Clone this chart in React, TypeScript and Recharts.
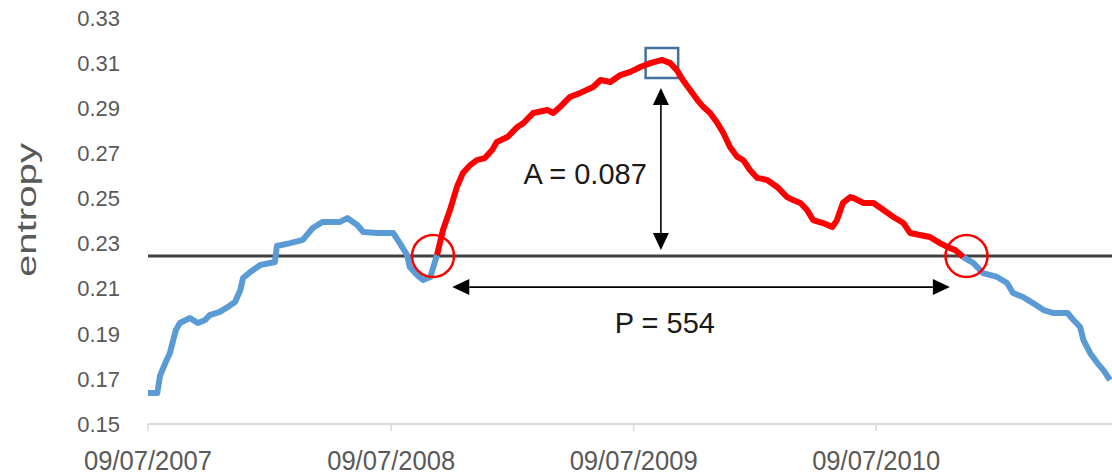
import { LineChart, Line, XAxis, YAxis, ReferenceLine, ReferenceDot, ReferenceArea } from "recharts";

// x is days since 09/07/2007
const tickDays = [0, 366, 731, 1096];
const tickLabels = ["09/07/2007", "09/07/2008", "09/07/2009", "09/07/2010"];
const yTicks = [0.15, 0.17, 0.19, 0.21, 0.23, 0.25, 0.27, 0.29, 0.31, 0.33];

// blue part before the episode
const blueStartDays = [0, 14, 18, 26, 33, 38, 42, 48, 63, 75, 86, 93, 108, 120, 131, 139, 143, 154, 169, 184, 191, 194, 214, 233, 248, 263, 289, 300, 315, 324, 345, 369, 379, 390, 394, 405, 414, 425, 435];
const blueStartValues = [0.1637, 0.1637, 0.1713, 0.177, 0.1815, 0.1872, 0.1917, 0.1948, 0.197, 0.1948, 0.1961, 0.1983, 0.1997, 0.2019, 0.2041, 0.2094, 0.2147, 0.2174, 0.2205, 0.2214, 0.2218, 0.2289, 0.2302, 0.2316, 0.2369, 0.2396, 0.2396, 0.2413, 0.2382, 0.2351, 0.2347, 0.2347, 0.2302, 0.2249, 0.2196, 0.2161, 0.2138, 0.2152, 0.2249];

// red part: the episode above the threshold
const redDays = [435, 444, 455, 465, 474, 485, 495, 507, 518, 525, 541, 556, 565, 580, 601, 610, 620, 635, 650, 670, 681, 696, 711, 726, 741, 756, 774, 786, 796, 805, 816, 827, 836, 846, 857, 866, 876, 887, 896, 906, 917, 932, 947, 962, 971, 982, 992, 1001, 1016, 1030, 1037, 1046, 1057, 1062, 1077, 1092, 1107, 1122, 1137, 1147, 1162, 1177, 1192, 1203, 1215, 1227];
const redValues = [0.2249, 0.236, 0.2453, 0.2551, 0.2613, 0.2648, 0.267, 0.2679, 0.2715, 0.275, 0.2772, 0.2817, 0.2834, 0.2879, 0.2892, 0.2879, 0.2905, 0.295, 0.2967, 0.2994, 0.3025, 0.3016, 0.3047, 0.3061, 0.3083, 0.31, 0.3114, 0.31, 0.3069, 0.3025, 0.2981, 0.2936, 0.2905, 0.2879, 0.2834, 0.279, 0.2728, 0.2684, 0.267, 0.2626, 0.2591, 0.2582, 0.2551, 0.2506, 0.2493, 0.248, 0.2449, 0.2404, 0.2391, 0.2373, 0.2404, 0.248, 0.2506, 0.2502, 0.248, 0.248, 0.2449, 0.2418, 0.2391, 0.2347, 0.2338, 0.2329, 0.2302, 0.2285, 0.2271, 0.224];

// blue part after the episode
const blueEndDays = [1227, 1242, 1257, 1278, 1293, 1302, 1317, 1332, 1348, 1363, 1384, 1393, 1403, 1408, 1418, 1429, 1438, 1448];
const blueEndValues = [0.224, 0.2214, 0.2169, 0.2152, 0.2125, 0.2081, 0.2063, 0.2036, 0.2005, 0.1992, 0.1992, 0.1961, 0.193, 0.1872, 0.1815, 0.177, 0.1739, 0.1695];

const threshold = 0.2245;
const crossingDays = [429, 1232];
const peakBox = { x1: 749, x2: 798, y1: 0.3034, y2: 0.3167 };
const amplitude = { day: 772, low: 0.2271, high: 0.299, label: "A = 0.087", labelDay: 658, labelValue: 0.2608 };
const period = { value: 0.2107, from: 458, to: 1207, label: "P = 554", labelDay: 778, labelValue: 0.1948 };

const toRows = (days: number[], values: number[]) => days.map((day, i) => ({ day, entropy: values[i] }));

const blueStart = toRows(blueStartDays, blueStartValues);
const red = toRows(redDays, redValues);
const blueEnd = toRows(blueEndDays, blueEndValues);

const DoubleArrow = (props: any) => {
  const { x1, y1, x2, y2 } = props;
  const dx = x2 - x1;
  const dy = y2 - y1;
  const len = Math.hypot(dx, dy) || 1;
  const ux = dx / len;
  const uy = dy / len;
  const hl = 17;
  const hw = 8;
  const head = (tx: number, ty: number, dirx: number, diry: number) => {
    const bx = tx - dirx * hl;
    const by = ty - diry * hl;
    return `${tx},${ty} ${bx - diry * hw},${by + dirx * hw} ${bx + diry * hw},${by - dirx * hw}`;
  };
  return (
    <g>
      <line x1={x1 + ux * hl} y1={y1 + uy * hl} x2={x2 - ux * hl} y2={y2 - uy * hl} stroke="#000" strokeWidth={1.6} />
      <polygon points={head(x2, y2, ux, uy)} fill="#000" />
      <polygon points={head(x1, y1, -ux, -uy)} fill="#000" />
    </g>
  );
};

const textShape = (text: string) => (p: any) => (
  <text x={p.cx} y={p.cy} textAnchor="middle" dominantBaseline="central" fontSize={29} fill="#1a1a1a">
    {text}
  </text>
);

const DateTick = (props: any) => {
  const { x, y, payload } = props;
  const label = tickLabels[tickDays.indexOf(payload.value)];
  return (
    <text x={x} y={y + 39} textAnchor="middle" fontSize={28} fill="#595959" textLength={128} lengthAdjust="spacingAndGlyphs">
      {label}
    </text>
  );
};

const EntropyLabel = () => (
  <text
    x={27}
    y={210}
    transform="rotate(-90, 27, 210)"
    textAnchor="middle"
    dominantBaseline="central"
    fontSize={27}
    fill="#595959"
    textLength={134}
    lengthAdjust="spacingAndGlyphs"
  >
    entropy
  </text>
);

export default function App() {
  return (
    <div style={{ position: "absolute", left: 0, top: 0, fontFamily: "'Liberation Sans', Arial, sans-serif", background: "#fff" }}>
      <LineChart width={1112} height={475} margin={{ top: 18, right: 0, bottom: 0, left: 0 }}>
        <XAxis
          type="number"
          dataKey="day"
          domain={[0, 1451]}
          ticks={tickDays}
          tick={<DateTick />}
          tickSize={7}
          tickMargin={0}
          height={51}
          axisLine={{ stroke: "#d9d9d9", strokeWidth: 2 }}
          tickLine={{ stroke: "#d9d9d9", strokeWidth: 1.5 }}
          allowDataOverflow
        />
        <YAxis
          type="number"
          domain={[0.15, 0.33]}
          ticks={yTicks}
          tickFormatter={(v: number) => v.toFixed(2)}
          width={148}
          axisLine={false}
          tickLine={false}
          tickSize={0}
          tickMargin={28}
          tick={{ fontSize: 22, fill: "#595959" }}
          label={EntropyLabel}
          allowDataOverflow
        />
        <ReferenceLine y={threshold} stroke="#404040" strokeWidth={3} />
        <Line data={blueStart} dataKey="entropy" type="linear" stroke="#5B9BD5" strokeWidth={6} dot={false} strokeLinejoin="round" isAnimationActive={false} />
        <Line data={blueEnd} dataKey="entropy" type="linear" stroke="#5B9BD5" strokeWidth={6} dot={false} strokeLinejoin="round" isAnimationActive={false} />
        <Line data={red} dataKey="entropy" type="linear" stroke="#FF0000" strokeWidth={6} dot={false} strokeLinejoin="round" isAnimationActive={false} />
        {crossingDays.map((d) => (
          <ReferenceDot key={d} x={d} y={threshold} r={21} fill="none" stroke="#FF0000" strokeWidth={2.5} />
        ))}
        <ReferenceArea x1={peakBox.x1} x2={peakBox.x2} y1={peakBox.y1} y2={peakBox.y2} fill="none" fillOpacity={0} stroke="#41719C" strokeWidth={2.5} />
        <ReferenceLine
          segment={[{ x: amplitude.day, y: amplitude.low }, { x: amplitude.day, y: amplitude.high }]}
          shape={DoubleArrow}
        />
        <ReferenceLine
          segment={[{ x: period.from, y: period.value }, { x: period.to, y: period.value }]}
          shape={DoubleArrow}
        />
        <ReferenceDot x={amplitude.labelDay} y={amplitude.labelValue} r={0} shape={textShape(amplitude.label)} />
        <ReferenceDot x={period.labelDay} y={period.labelValue} r={0} shape={textShape(period.label)} />
      </LineChart>
    </div>
  );
}
